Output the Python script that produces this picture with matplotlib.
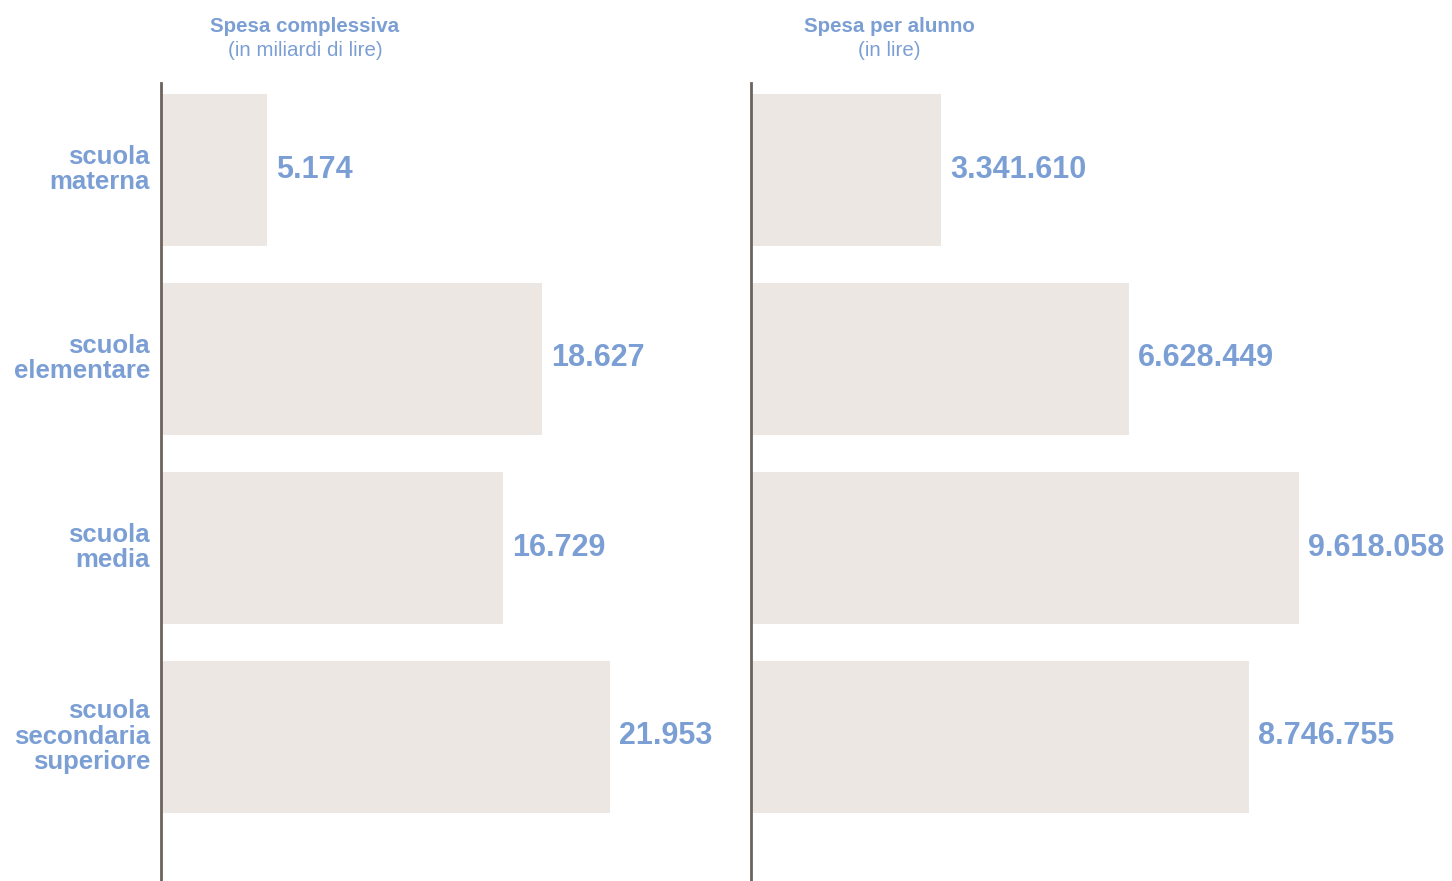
import matplotlib
matplotlib.use("Agg")
import matplotlib.pyplot as plt

categories = ["scuola\nmaterna", "scuola\nelementare", "scuola\nmedia", "scuola\nsecondaria\nsuperiore"]
spesa_complessiva = [5174, 18627, 16729, 21953]
spesa_complessiva_labels = ["5.174", "18.627", "16.729", "21.953"]
spesa_per_alunno = [3341610, 6628449, 9618058, 8746755]
spesa_per_alunno_labels = ["3.341.610", "6.628.449", "9.618.058", "8.746.755"]
titles = [("Spesa complessiva", "(in miliardi di lire)"), ("Spesa per alunno", "(in lire)")]

plt.rcParams['font.family'] = ['Liberation Sans', 'DejaVu Sans']
BLUE = "#7b9fd4"
BAR = "#ece7e3"
AXIS = "#6e625d"

W, H = 1452, 881
fig = plt.figure(figsize=(W / 100, H / 100), dpi=100)

def px_axes(left, top, width, height):
    return fig.add_axes([left / W, 1 - (top + height) / H, width / W, height / H])

ax_top, ax_h = 83, 798
pitch = 189.0
first_center = 169.5
y0 = -(first_center - ax_top) / pitch
y1 = y0 + ax_h / pitch
ypos = list(range(len(categories)))
bar_h = 152 / pitch

panels = [
    (161, 580, 580 / (449 / 21953), spesa_complessiva, spesa_complessiva_labels, 305),
    (751, 701, 701 / (548 / 9618058), spesa_per_alunno, spesa_per_alunno_labels, 889),
]

for i, (left, width, xmax, vals, labs, tx) in enumerate(panels):
    ax = px_axes(left, ax_top, width, ax_h)
    ax.barh(ypos, vals, height=bar_h, color=BAR, edgecolor="none")
    ax.set_xlim(0, xmax)
    ax.set_ylim(y1, y0)
    for s in ["top", "right", "bottom"]:
        ax.spines[s].set_visible(False)
    ax.spines["left"].set_color(AXIS)
    ax.spines["left"].set_linewidth(2)
    ax.set_xticks([])
    ax.set_yticks([])
    ax.patch.set_alpha(0)
    off = xmax * 9 / width
    for y, v, lab in zip(ypos, vals, labs):
        ax.text(v + off, y, lab, ha="left", va="center", fontsize=22,
                fontweight="bold", color=BLUE)
    if i == 0:
        for y, c in zip(ypos, categories):
            ax.text(-xmax * 11 / width, y, c, ha="right", va="center", fontsize=18.5,
                    fontweight="bold", color=BLUE, linespacing=1.1)
    t1, t2 = titles[i]
    fig.text(tx / W, 1 - 27 / H, t1, ha="center", va="center", fontsize=14.8,
             fontweight="bold", color=BLUE)
    fig.text(tx / W, 1 - 51 / H, t2, ha="center", va="center", fontsize=14.8,
             color=BLUE)

fig.savefig("out.png", dpi=100)
